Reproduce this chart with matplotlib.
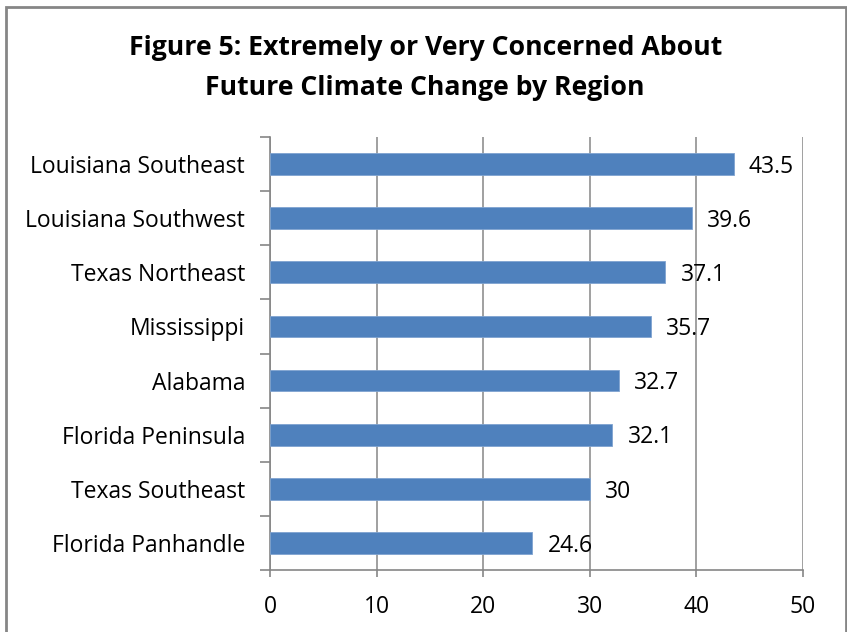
import matplotlib.pyplot as plt
from matplotlib.patches import Rectangle

# -------------------------------------------------
# DATA
# -------------------------------------------------
regions = ["Florida Panhandle", "Texas Southeast", "Florida Peninsula", "Alabama",
           "Mississippi", "Texas Northeast", "Louisiana Southwest", "Louisiana Southeast"]
values = [24.6, 30, 32.1, 32.7, 35.7, 37.1, 39.6, 43.5]
value_labels = ["24.6", "30", "32.1", "32.7", "35.7", "37.1", "39.6", "43.5"]
x_ticks = [0, 10, 20, 30, 40, 50]

TITLE = "Figure 5: Extremely or Very Concerned About\nFuture Climate Change by Region"

plt.rcParams["font.family"] = ["Open Sans", "DejaVu Sans"]

# -------------------------------------------------
# PLOT
# -------------------------------------------------
fig = plt.figure(figsize=(8.47, 6.32), dpi=100)
ax = fig.add_axes([270 / 847, 1 - 570 / 632, 533 / 847, 433 / 632])

pos = range(len(regions))
ax.barh(pos, values, height=0.4, color="#4F81BD", edgecolor="#7FA3D0", linewidth=0.6, zorder=3)

for p, v, lab in zip(pos, values, value_labels):
    ax.annotate(lab, (v, p), xytext=(11, -2), textcoords="offset points",
                va="center", ha="left", fontsize=16.5, color="black", zorder=4)

ax.set_xlim(0, 50)
ax.set_ylim(-0.5, len(regions) - 0.5)
ax.set_xticks(x_ticks)
ax.set_xticklabels([str(t) for t in x_ticks], fontsize=16.5)
ax.set_yticks(list(pos))
ax.set_yticklabels(regions, fontsize=16.5)
ax.set_yticks([i - 0.5 for i in range(len(regions) + 1)], minor=True)
ax.tick_params(axis="y", which="major", length=0, pad=18)
ax.tick_params(axis="y", which="minor", length=7, width=1.2, color="#868686")
ax.tick_params(axis="x", length=5, width=1.2, color="#868686", pad=13)

ax.grid(axis="x", color="#868686", linewidth=1.1, zorder=0)
for s in ["top", "right"]:
    ax.spines[s].set_visible(False)
for s in ["left", "bottom"]:
    ax.spines[s].set_color("#868686")
    ax.spines[s].set_linewidth(1.2)

fig.text(0.502, 1 - 68 / 632, TITLE, ha="center", va="center",
         fontsize=19.2, fontweight="bold", linespacing=1.68)

# chart border
fig.patches.append(Rectangle((5.5 / 847, -0.1), 840 / 847, 1.1 - 6.5 / 632,
                             transform=fig.transFigure, fill=False,
                             edgecolor="#868686", linewidth=2))

plt.savefig("out.png", dpi=100)
